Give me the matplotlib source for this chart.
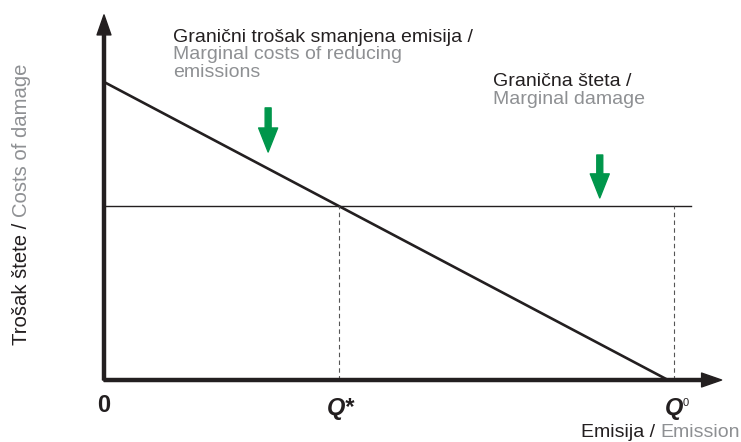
import matplotlib
matplotlib.use("Agg")
import matplotlib.pyplot as plt

plt.rcParams['font.family'] = ['Liberation Sans', 'DejaVu Sans']

BLACK = '#231f20'
GREY = '#8e9093'
GREEN = '#00964b'

# data (abstract units: emission on x, cost on y)
mac_x = [0, 100]          # marginal abatement cost line
mac_y = [100, 0]
damage_level = 58.4       # marginal damage (flat)
damage_x_end = 104
q0 = 101
x_axis_end = 109.5
y_axis_end = 122.5

# Q* where the two lines cross
slope = (mac_y[1] - mac_y[0]) / (mac_x[1] - mac_x[0])
q_star = (damage_level - mac_y[0]) / slope

fig = plt.figure(figsize=(7.41, 4.42), dpi=100)
ax = fig.add_axes([0, 0, 1, 1])
ax.set_xlim(-18.44, 112.94)
ax.set_ylim(-20.8, 127.5)
ax.axis('off')

# axes with arrows
axis_style = 'simple,head_length=1.44,head_width=1.0,tail_width=0.22'
ax.annotate('', xy=(x_axis_end, 0), xytext=(0, 0),
            arrowprops=dict(arrowstyle=axis_style, mutation_scale=10,
                            color=BLACK, shrinkA=0, shrinkB=0))
ax.annotate('', xy=(0, y_axis_end), xytext=(0, 0),
            arrowprops=dict(arrowstyle=axis_style, mutation_scale=10,
                            color=BLACK, shrinkA=0, shrinkB=0))

# curves
ax.plot(mac_x, mac_y, color=BLACK, lw=1.9, solid_capstyle='butt')
ax.plot([0, damage_x_end], [damage_level, damage_level], color=BLACK, lw=1.0)
ax.plot([q_star, q_star], [0, damage_level], color='#555555', lw=0.8,
        dashes=(4, 3))
ax.plot([q0, q0], [0, damage_level], color='#555555', lw=0.8, dashes=(4, 3))

# green arrows
green_style = 'simple,head_length=1.73,head_width=1.37,tail_width=0.43'
for (x0, y0, y1) in [(29.1, 91.3, 76.5), (87.9, 75.5, 61.1)]:
    ax.annotate('', xy=(x0, y1), xytext=(x0, y0),
                arrowprops=dict(arrowstyle=green_style, mutation_scale=10,
                                color=GREEN, shrinkA=0, shrinkB=0))

fs = 14
# curve labels
ax.text(12.2, 113.5, 'Granični trošak smanjena emisija /', color=BLACK,
        fontsize=fs, va='baseline', ha='left')
ax.text(12.2, 107.7, 'Marginal costs of reducing', color=GREY,
        fontsize=fs, va='baseline', ha='left')
ax.text(12.2, 101.8, 'emissions', color=GREY,
        fontsize=fs, va='baseline', ha='left')
ax.text(69.0, 98.7, 'Granična šteta /', color=BLACK, fontsize=fs,
        va='baseline', ha='left')
ax.text(69.0, 92.6, 'Marginal damage', color=GREY, fontsize=fs,
        va='baseline', ha='left')

# tick labels
tick_fs = 17
ax.text(0, -8.4, '0', fontsize=tick_fs, fontweight='bold', color=BLACK,
        ha='center', va='center')
ax.text(q_star + 0.4, -9.4, 'Q*', fontsize=tick_fs, fontweight='bold',
        style='italic', color=BLACK, ha='center', va='center')
tq = ax.text(q0, -9.4, 'Q', fontsize=tick_fs, fontweight='bold',
             style='italic', color=BLACK, ha='center', va='center')
ax.annotate('0', xy=(1, 1), xycoords=tq, xytext=(0, -1),
            textcoords='offset points', fontsize=8, color=BLACK,
            ha='left', va='top')

# axis titles
te = ax.text(112.8, -19.1, 'Emission', color=GREY, fontsize=fs,
             ha='right', va='baseline')
ax.annotate('Emisija / ', xy=(0, 0), xycoords=te, color=BLACK, fontsize=fs,
            ha='right', va='bottom')

yfs = 14.6
ty = ax.text(-14.6, 11.7, 'Trošak štete / ', color=BLACK, fontsize=yfs,
             rotation=90, ha='center', va='bottom')
ax.annotate('Costs of damage', xy=(0, 1), xycoords=ty, color=GREY,
            fontsize=yfs, rotation=90, ha='left', va='bottom')

fig.savefig('out.png', dpi=100)
